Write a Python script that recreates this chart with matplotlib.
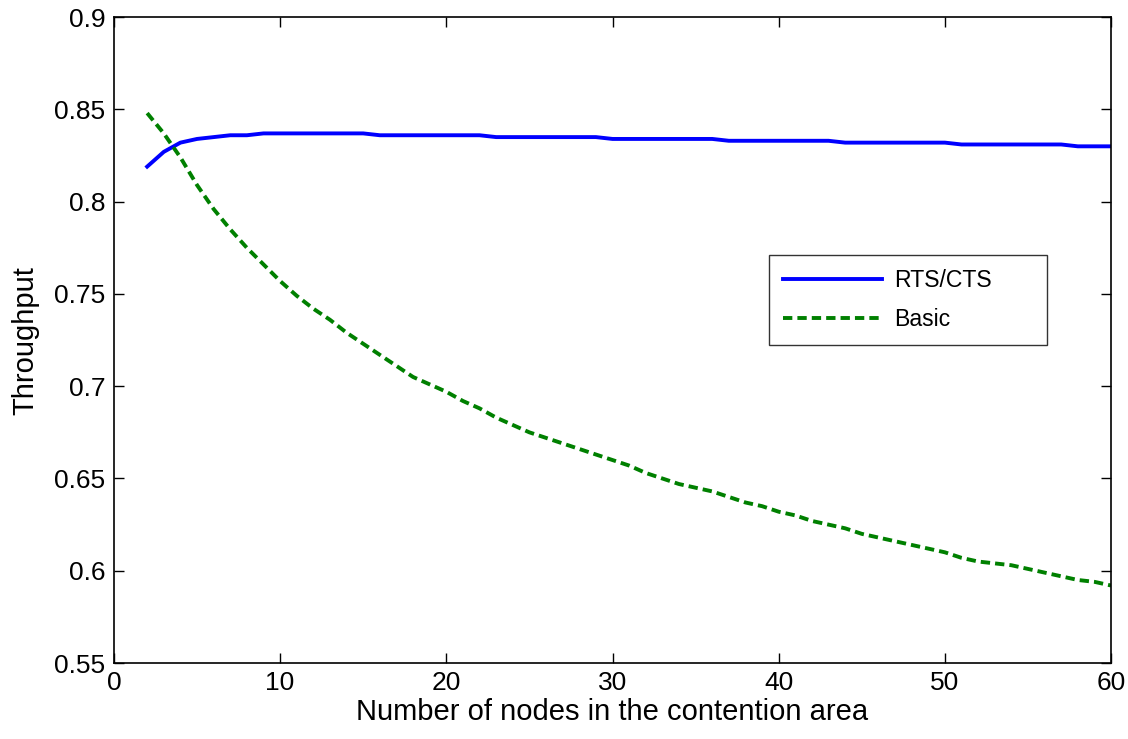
import numpy as np
import matplotlib
matplotlib.use("Agg")
import matplotlib.pyplot as plt

# number of nodes
nodes = list(range(2, 61))

# throughput with RTS/CTS access
rts_cts = [0.819, 0.827, 0.832, 0.834, 0.835, 0.836, 0.836,
           0.837, 0.837, 0.837, 0.837, 0.837, 0.837, 0.837,
           0.836, 0.836, 0.836, 0.836, 0.836, 0.836, 0.836,
           0.835, 0.835, 0.835, 0.835, 0.835, 0.835, 0.835,
           0.834, 0.834, 0.834, 0.834, 0.834, 0.834, 0.834,
           0.833, 0.833, 0.833, 0.833, 0.833, 0.833, 0.833,
           0.832, 0.832, 0.832, 0.832, 0.832, 0.832, 0.832,
           0.831, 0.831, 0.831, 0.831, 0.831, 0.831, 0.831,
           0.830, 0.830, 0.830]

# throughput with basic access
basic = [0.848, 0.837, 0.824, 0.809, 0.796, 0.785, 0.775, 0.766, 0.757,
         0.749, 0.742, 0.736, 0.729, 0.723, 0.717, 0.711, 0.705, 0.701,
         0.697, 0.692, 0.688, 0.683, 0.679, 0.675, 0.672, 0.669, 0.666,
         0.663, 0.660, 0.657, 0.653, 0.650, 0.647, 0.645, 0.643, 0.640,
         0.637, 0.635, 0.632, 0.630, 0.627, 0.625, 0.623, 0.620, 0.618,
         0.616, 0.614, 0.612, 0.610, 0.607, 0.605, 0.604, 0.603, 0.601,
         0.599, 0.597, 0.595, 0.594, 0.592]

xticks = [0, 10, 20, 30, 40, 50, 60]
yticks = [0.55, 0.6, 0.65, 0.7, 0.75, 0.8, 0.85, 0.9]
ytick_labels = ['0.55', '0.6', '0.65', '0.7', '0.75', '0.8', '0.85', '0.9']

plt.rcParams['font.family'] = ['Liberation Sans', 'DejaVu Sans']

fig = plt.figure(figsize=(11.28, 7.39), dpi=100)
ax = fig.add_axes([0.101, 0.1028, 0.884, 0.874])

ax.plot(nodes, rts_cts, color='#0000ff', lw=2.8, label='RTS/CTS')
ax.plot(nodes, basic, color='#008000', lw=2.8, dashes=(2.4, 1.3), label='Basic')

ax.set_xlim(0, 60)
ax.set_ylim(0.55, 0.9)
ax.set_xticks(xticks)
ax.set_yticks(yticks)
ax.set_yticklabels(ytick_labels)
ax.tick_params(direction='in', length=7, width=1, top=True, right=True,
               labelsize=19, pad=6)
for sp in ax.spines.values():
    sp.set_linewidth(1.2)

ax.set_xlabel('Number of nodes in the contention area', fontsize=21, labelpad=2)
ax.set_ylabel('Throughput', fontsize=21, labelpad=11)

leg = ax.legend(loc='upper left', bbox_to_anchor=(0.657, 0.632, 0.279, 0.0),
                mode='expand', fontsize=16.6, frameon=True, fancybox=False,
                edgecolor='black', handlelength=4.3, handletextpad=0.5,
                borderpad=0.62, labelspacing=0.68, borderaxespad=0)
leg.get_frame().set_linewidth(1.0)

fig.savefig('out.png', dpi=100, facecolor='white')
